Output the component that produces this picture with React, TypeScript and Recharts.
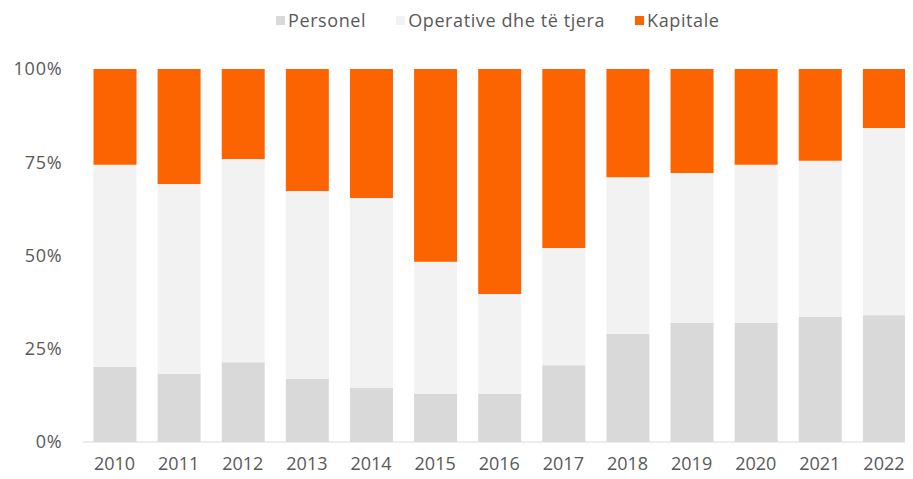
import { BarChart, Bar, XAxis, YAxis } from 'recharts';

const years = ['2010', '2011', '2012', '2013', '2014', '2015', '2016', '2017', '2018', '2019', '2020', '2021', '2022'];
const personel = [20.2, 18.2, 21.4, 16.9, 14.5, 12.9, 12.9, 20.6, 29.0, 31.9, 31.9, 33.5, 34.0];
const operative = [54.1, 51.0, 54.5, 50.4, 50.9, 35.4, 26.8, 31.4, 42.0, 40.2, 42.4, 41.9, 50.2];
const kapitale = [25.7, 30.8, 24.1, 32.7, 34.6, 51.7, 60.3, 48.0, 29.0, 27.9, 25.7, 24.6, 15.8];
const yTicks = [0, 0.25, 0.5, 0.75, 1];

const series = [
  { key: 'personel', name: 'Personel', color: '#d9d9d9' },
  { key: 'operative', name: 'Operative dhe të tjera', color: '#f2f2f2' },
  { key: 'kapitale', name: 'Kapitale', color: '#fb6400' },
];

const data = years.map((year, i) => ({
  year,
  personel: personel[i],
  operative: operative[i],
  kapitale: kapitale[i],
}));

const FONT = '"Open Sans", sans-serif';
const TEXT = '#595959';

function LegendRow() {
  return (
    <div
      style={{
        position: 'absolute',
        top: 8,
        left: 276,
        display: 'flex',
        alignItems: 'center',
        fontFamily: FONT,
        fontSize: 18,
        letterSpacing: 0.6,
        color: TEXT,
        whiteSpace: 'nowrap',
      }}
    >
      {series.map((s) => (
        <div key={s.key} style={{ display: 'flex', alignItems: 'center', marginRight: 30 }}>
          <span style={{ width: 9, height: 9, background: s.color, marginRight: 3, display: 'inline-block' }} />
          <span>{s.name}</span>
        </div>
      ))}
    </div>
  );
}

export default function App() {
  return (
    <div style={{ margin: -8, position: 'relative', width: 913, height: 479, overflow: 'hidden', background: '#fff' }}>
      <LegendRow />
      <BarChart
        width={916}
        height={479}
        data={data}
        stackOffset="expand"
        barSize={43}
        margin={{ top: 69, right: 0, bottom: 0, left: 0 }}
      >
        <XAxis
          dataKey="year"
          height={37}
          tickLine={false}
          tickSize={0}
          tickMargin={15}
          axisLine={{ stroke: '#d9d9d9' }}
          tick={{ fill: TEXT, fontSize: 18, fontFamily: FONT }}
        />
        <YAxis
          width={82.5}
          ticks={yTicks}
          domain={[0, 1]}
          tickFormatter={(v: number) => `${Math.round(v * 100)}%`}
          axisLine={false}
          tickLine={false}
          tickSize={0}
          tickMargin={20}
          tick={{ fill: TEXT, fontSize: 18, fontFamily: FONT, letterSpacing: 0.8 }}
        />
        {series.map((s) => (
          <Bar key={s.key} dataKey={s.key} name={s.name} stackId="a" fill={s.color} isAnimationActive={false} />
        ))}
      </BarChart>
    </div>
  );
}
